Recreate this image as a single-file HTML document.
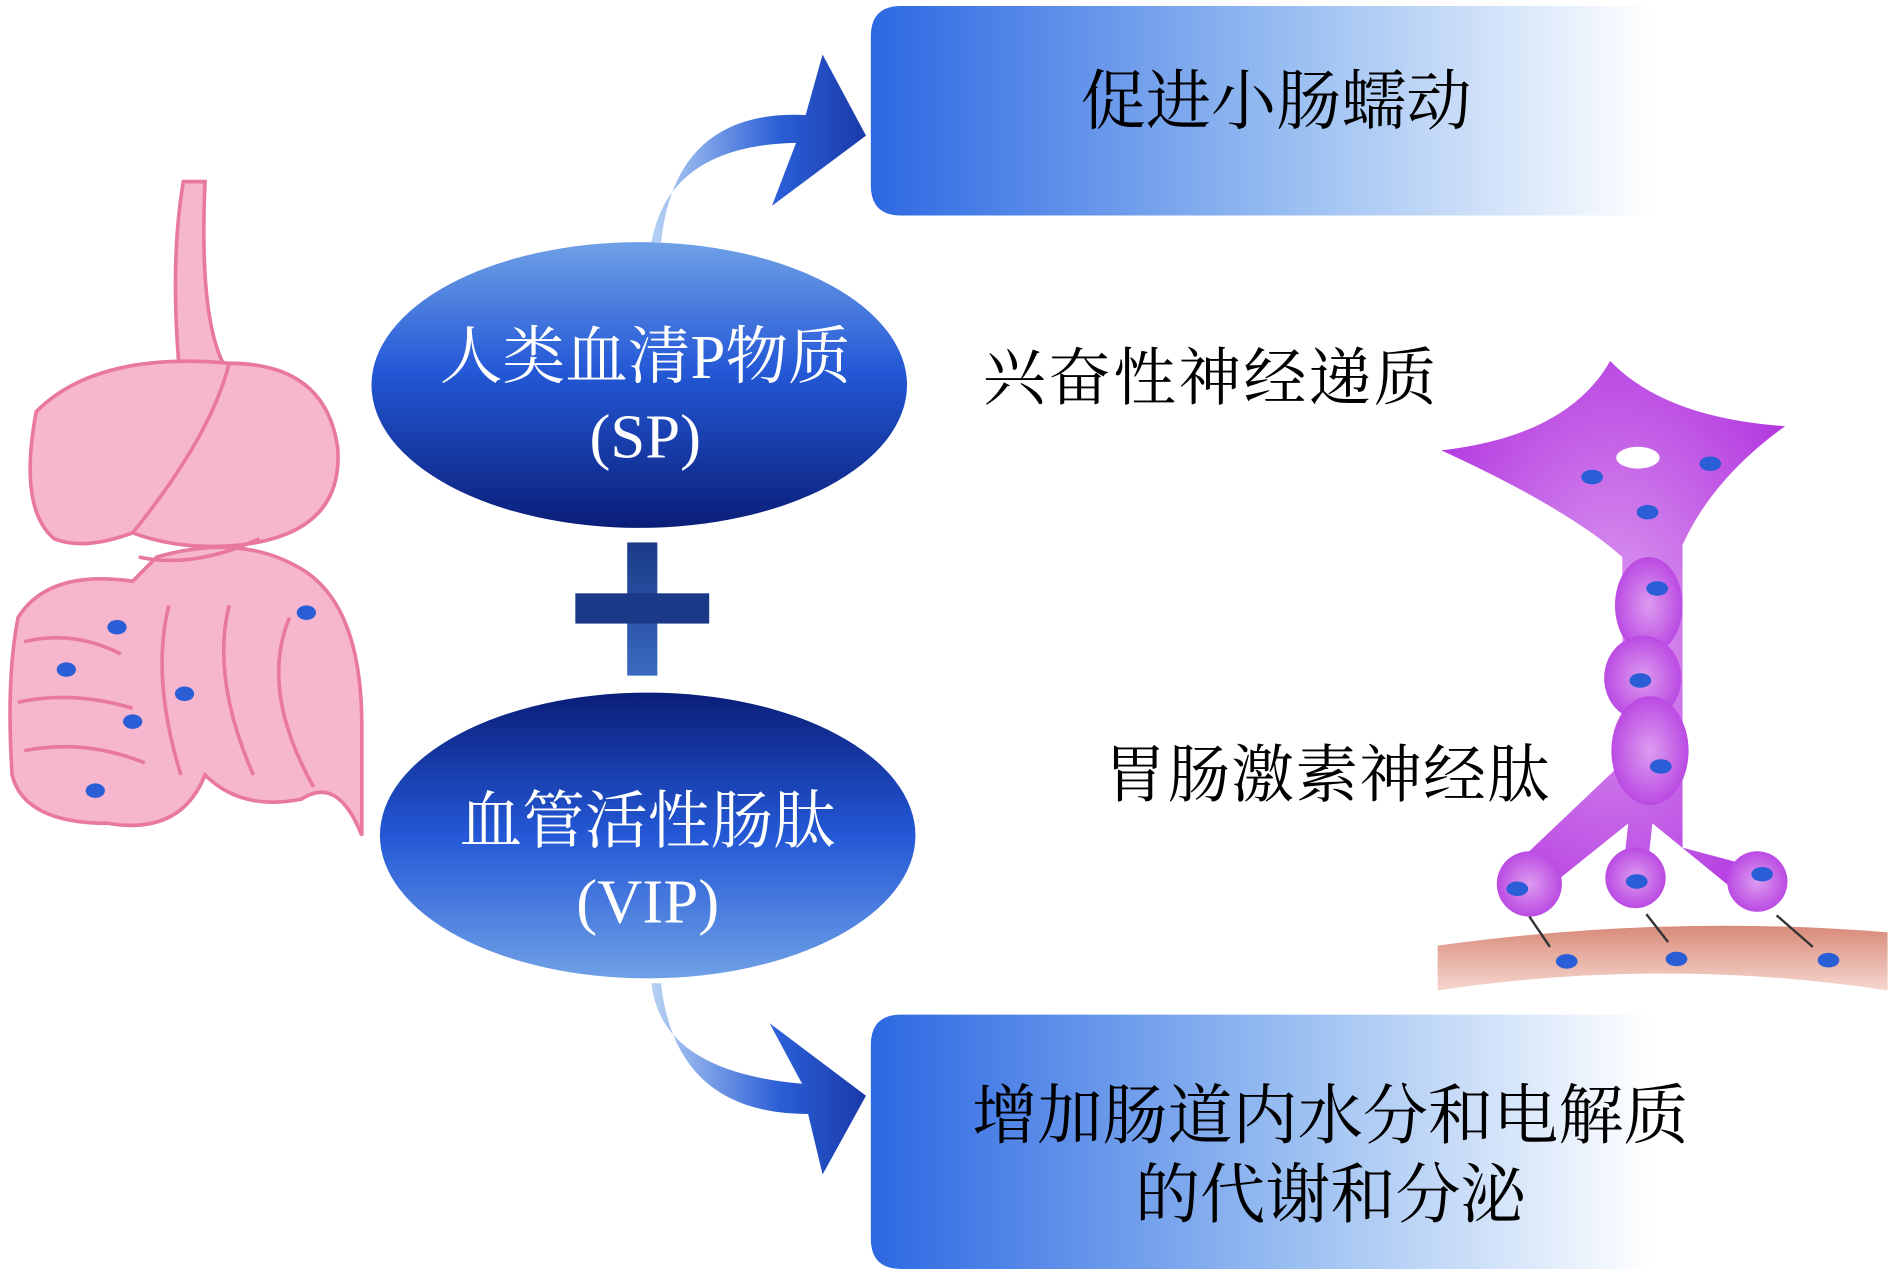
<!DOCTYPE html>
<html><head><meta charset="utf-8"><style>
html,body{margin:0;padding:0;background:#fff;}
svg{display:block;}
text{font-family:"Liberation Serif","Noto Serif CJK SC",serif;}
</style></head><body>
<svg width="1890" height="1275" viewBox="0 0 1567 1053" preserveAspectRatio="none" xmlns="http://www.w3.org/2000/svg">
<defs>
<linearGradient id="box" x1="0" x2="1" y1="0" y2="0">
<stop offset="0" stop-color="#2c68e2"/><stop offset="0.55" stop-color="#9cc0f2"/><stop offset="1" stop-color="#ffffff"/></linearGradient>
<linearGradient id="e1" x1="0" x2="0" y1="0" y2="1">
<stop offset="0" stop-color="#6fa0e6"/><stop offset="0.45" stop-color="#2458d6"/><stop offset="1" stop-color="#0a1e78"/></linearGradient>
<linearGradient id="e2" x1="0" x2="0" y1="0" y2="1">
<stop offset="0" stop-color="#0a1e78"/><stop offset="0.5" stop-color="#2458d6"/><stop offset="1" stop-color="#6fa0e6"/></linearGradient>
<linearGradient id="arr" x1="0" x2="1" y1="0" y2="0">
<stop offset="0" stop-color="#b8d2f4"/><stop offset="0.6" stop-color="#2a5ed6"/><stop offset="1" stop-color="#1a3aa8"/></linearGradient>
<linearGradient id="plus" x1="0" x2="0" y1="0" y2="1">
<stop offset="0" stop-color="#1a3a88"/><stop offset="1" stop-color="#3a6ac0"/></linearGradient>
<radialGradient id="pur" cx="0.5" cy="0.5" r="0.6">
<stop offset="0" stop-color="#dc9cf0"/><stop offset="1" stop-color="#b43ae0"/></radialGradient>
<linearGradient id="mus" x1="0" x2="0" y1="0" y2="1">
<stop offset="0" stop-color="#d88a78"/><stop offset="1" stop-color="#f6d6cf"/></linearGradient>
</defs>
<path d="M747 5 H1370 V178 H747 Q722 178 722 153 V30 Q722 5 747 5Z" fill="url(#box)"/>
<path d="M747 838 H1370 V1048 H747 Q722 1048 722 1023 V863 Q722 838 747 838Z" fill="url(#box)"/>
<text x="1058" y="102" font-size="54" text-anchor="middle">促进小肠蠕动</text>
<text x="1103" y="940" font-size="54" text-anchor="middle">增加肠道内水分和电解质</text>
<text x="1103" y="1005" font-size="54" text-anchor="middle">的代谢和分泌</text>
<path d="M540 200 Q555 120 660 118 L640 170 L718 112 L682 45 L668 95 Q560 90 548 200Z" fill="url(#arr)"/>
<path d="M540 812 Q548 885 665 895 L638 845 L718 905 L682 970 L670 920 Q560 920 548 812Z" fill="url(#arr)"/>
<ellipse cx="530" cy="318" rx="222" ry="118" fill="url(#e1)"/>
<ellipse cx="537" cy="690" rx="222" ry="118" fill="url(#e2)"/>
<text x="535" y="312" font-size="52" fill="#fff" text-anchor="middle">人类血清P物质</text>
<text x="535" y="378" font-size="52" fill="#fff" text-anchor="middle">(SP)</text>
<text x="537" y="696" font-size="52" fill="#fff" text-anchor="middle">血管活性肠肽</text>
<text x="537" y="762" font-size="52" fill="#fff" text-anchor="middle">(VIP)</text>
<rect x="520" y="448" width="25" height="110" fill="url(#plus)"/>
<rect x="477" y="490" width="111" height="25" fill="#1a3a88"/>
<text x="815" y="330" font-size="52" letter-spacing="2">兴奋性神经递质</text>
<text x="915" y="658" font-size="52" letter-spacing="1">胃肠激素神经肽</text>
<path d="M1192 781 Q1380 755 1565 770 L1565 818 Q1380 790 1192 818Z" fill="url(#mus)"/>
<path d="M1195 372 Q1300 360 1335 298 Q1380 345 1480 352 Q1420 395 1395 450 L1395 700 L1470 720 L1450 745 L1370 680 L1365 725 L1345 725 L1350 680 L1275 740 L1250 720 L1345 630 L1345 460 Q1300 420 1195 372Z" fill="url(#pur)"/>
<ellipse cx="1367" cy="500" rx="28" ry="40" fill="url(#pur)"/>
<ellipse cx="1362" cy="560" rx="32" ry="35" fill="url(#pur)"/>
<ellipse cx="1368" cy="620" rx="32" ry="45" fill="url(#pur)"/>
<circle cx="1268" cy="730" r="27" fill="url(#pur)"/>
<circle cx="1356" cy="725" r="25" fill="url(#pur)"/>
<circle cx="1457" cy="728" r="25" fill="url(#pur)"/>
<ellipse cx="1358" cy="378" rx="18" ry="9" fill="#fff"/>
<g fill="#2a5ed6">
<ellipse cx="1320" cy="394" rx="9" ry="6"/><ellipse cx="1418" cy="383" rx="9" ry="6"/><ellipse cx="1366" cy="423" rx="9" ry="6"/>
<ellipse cx="1374" cy="486" rx="9" ry="6"/><ellipse cx="1360" cy="562" rx="9" ry="6"/><ellipse cx="1377" cy="633" rx="9" ry="6"/>
<ellipse cx="1258" cy="734" rx="9" ry="6"/><ellipse cx="1357" cy="728" rx="9" ry="6"/><ellipse cx="1461" cy="722" rx="9" ry="6"/>
<ellipse cx="1299" cy="794" rx="9" ry="6"/><ellipse cx="1390" cy="792" rx="9" ry="6"/><ellipse cx="1516" cy="793" rx="9" ry="6"/>
</g>
<g stroke="#333" stroke-width="2"><line x1="1268" y1="757" x2="1285" y2="782"/><line x1="1365" y1="755" x2="1383" y2="778"/><line x1="1473" y1="756" x2="1503" y2="782"/></g>
<g fill="#f6b6ce" stroke="#e8789e" stroke-width="3">
<path d="M152 150 L170 150 Q165 260 185 300 L150 320 Q140 220 152 150Z"/>
<path d="M30 340 Q80 290 190 300 Q270 300 280 370 Q285 440 200 450 Q150 455 110 440 Q70 455 45 445 Q15 420 30 340Z"/>
<path d="M15 510 Q40 470 110 480 L130 460 Q200 440 250 470 Q300 500 300 600 Q300 660 300 690 Q280 640 250 660 Q200 670 170 640 Q150 690 90 680 Q20 680 10 640 Q5 560 15 510Z"/>
</g>
<g fill="none" stroke="#e8789e" stroke-width="3">
<path d="M190 300 Q175 360 110 440"/>
<path d="M115 460 Q160 470 215 445"/>
<path d="M20 530 Q60 520 100 540 M15 580 Q60 570 110 585 M20 620 Q70 610 120 630"/>
<path d="M140 500 Q125 560 150 640 M190 500 Q175 560 210 640 M240 510 Q215 570 260 650"/>
</g>
<g fill="#2a5ed6"><ellipse cx="97" cy="518" rx="8" ry="6"/><ellipse cx="55" cy="553" rx="8" ry="6"/><ellipse cx="153" cy="573" rx="8" ry="6"/><ellipse cx="110" cy="596" rx="8" ry="6"/><ellipse cx="79" cy="653" rx="8" ry="6"/><ellipse cx="254" cy="506" rx="8" ry="6"/></g>
</svg>
</body></html>
